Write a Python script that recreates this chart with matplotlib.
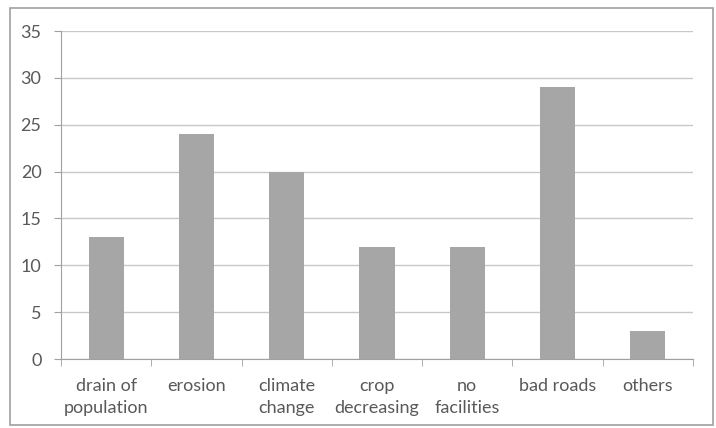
import matplotlib.pyplot as plt
from matplotlib.patches import Rectangle

# ----------------------------
# DATA
# ----------------------------
causes = ["drain of\npopulation", "erosion", "climate\nchange", "crop\ndecreasing",
          "no\nfacilities", "bad roads", "others"]
counts = [13, 24, 20, 12, 12, 29, 3]

plt.rcParams['font.family'] = ['Lato', 'DejaVu Sans']

fig = plt.figure(figsize=(7.16, 4.28), dpi=100)
ax = fig.add_axes([61 / 716, 1 - 359 / 428, (693 - 61) / 716, (359 - 31) / 428])

# outer chart frame
fig.patches.append(Rectangle((10 / 716, 3 / 428), 703 / 716, 417 / 428,
                             transform=fig.transFigure, fill=False,
                             edgecolor="#a0a0a0", linewidth=1.2))

x = range(len(causes))
ax.bar(x, counts, width=0.39, color="#a6a6a6", zorder=3)

ax.set_xlim(-0.5, len(causes) - 0.5)
ax.set_ylim(0, 35)
ax.set_yticks(range(0, 36, 5))
ax.yaxis.grid(True, color="#c8c8c8", linewidth=1.0, zorder=0)

ax.set_xticks(x)
ax.set_xticklabels(causes, fontsize=13, color="#595959", linespacing=1.45)
ax.set_xticks([i - 0.5 for i in range(len(causes) + 1)], minor=True)
ax.tick_params(axis="x", which="major", length=0, pad=14)
ax.tick_params(axis="x", which="minor", length=5, color="#a0a0a0", direction="out")
ax.tick_params(axis="y", length=5, color="#a0a0a0", labelsize=13,
               labelcolor="#595959", pad=9)

for side in ["top", "right"]:
    ax.spines[side].set_visible(False)
for side in ["left", "bottom"]:
    ax.spines[side].set_color("#a0a0a0")

fig.savefig("out.png", dpi=100)
